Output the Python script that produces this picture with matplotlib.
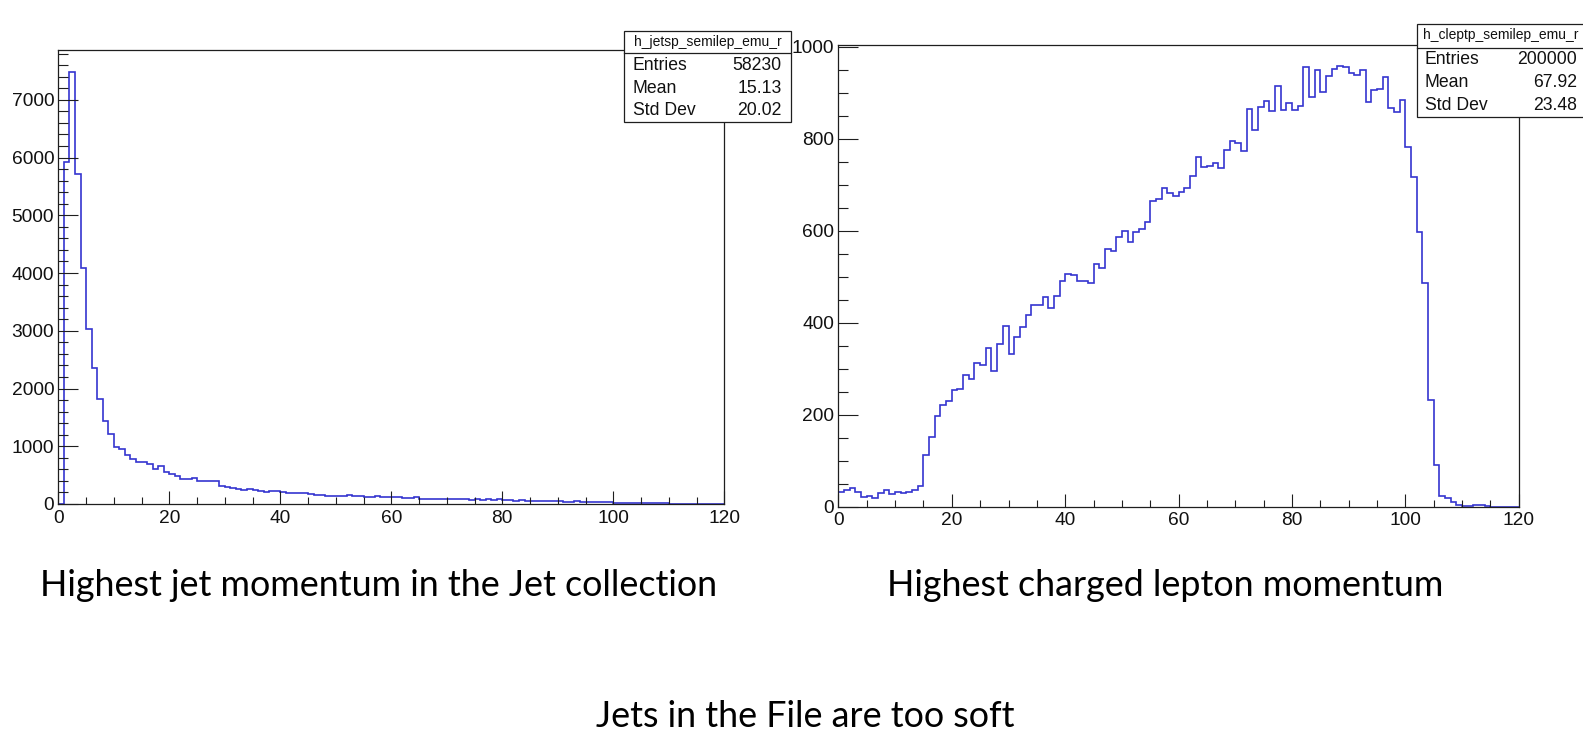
import numpy as np
import matplotlib
matplotlib.use("Agg")
import matplotlib.pyplot as plt
from matplotlib.patches import Rectangle
from matplotlib.lines import Line2D
from matplotlib.ticker import MultipleLocator

# ---------------- data ----------------
bin_edges = np.arange(0, 121, 1)

jet_counts = [
    0, 5925, 7488, 5712, 4080, 3035, 2360, 1810, 1440, 1220,
    990, 950, 840, 780, 720, 730, 690, 610, 650, 560,
    520, 490, 430, 425, 450, 395, 390, 390, 390, 320,
    300, 285, 265, 245, 255, 235, 225, 215, 225, 220,
    210, 185, 195, 185, 190, 165, 155, 150, 145, 135,
    140, 140, 150, 140, 135, 120, 125, 135, 125, 115,
    120, 115, 110, 112, 118, 95, 92, 90, 88, 95,
    82, 85, 78, 80, 75, 82, 70, 80, 72, 85,
    65, 68, 60, 62, 58, 55, 58, 52, 50, 55,
    45, 42, 40, 44, 38, 35, 40, 32, 36, 30,
    25, 22, 24, 20, 18, 22, 15, 14, 12, 10,
    8, 6, 2, 1, 0, 0, 0, 0, 0, 0,
]

lep_counts = [
    31, 36, 41, 31, 22, 24, 20, 30, 36, 28, 33, 29, 33, 36, 46,
    112, 151, 198, 222, 230, 253, 256, 286, 278, 312, 309, 344, 296, 353, 393,
    333, 370, 390, 416, 439, 438, 457, 433, 459, 490, 505, 504, 490, 490, 487,
    527, 520, 560, 557, 587, 599, 576, 597, 604, 618, 664, 668, 693, 682, 676,
    684, 692, 719, 761, 738, 741, 748, 737, 775, 796, 791, 774, 864, 819, 870,
    883, 861, 914, 862, 877, 862, 872, 957, 891, 949, 901, 937, 951, 958, 957,
    943, 938, 949, 879, 906, 909, 935, 868, 859, 884, 783, 716, 597, 486, 233,
    91, 24, 18, 11, 3, 1, 1, 3, 3, 1, 0, 0, 0, 0, 0,
]

x_ticks = [0, 20, 40, 60, 80, 100, 120]
jet_y_ticks = [0, 1000, 2000, 3000, 4000, 5000, 6000, 7000]
lep_y_ticks = [0, 200, 400, 600, 800, 1000]

stat_labels = ["Entries", "Mean", "Std Dev"]
jet_name = "h_jetsp_semilep_emu_r"
jet_stat_values = ["58230", "15.13", "20.02"]
lep_name = "h_cleptp_semilep_emu_r"
lep_stat_values = ["200000", "67.92", "23.48"]

caption_left = "Highest jet momentum in the Jet collection"
caption_right = "Highest charged lepton momentum"
caption_bottom = "Jets in the File are too soft"

# ---------------- style ----------------
W, H = 1583, 753
DPI = 100
BLUE = "#3535d0"
FRAME = "#1e1e1e"
TICKFONT = "Liberation Sans"
CAPFONT = "Lato"
CAPSIZE = 25.8

plt.rcParams["font.family"] = [TICKFONT, "DejaVu Sans"]

fig = plt.figure(figsize=(W / DPI, H / DPI), dpi=DPI)
fig.patch.set_facecolor("white")


def fx(x):
    return x / W


def fy(y):
    return 1 - y / H


def make_axes(x0, x1, ytop, ybot, ymax, yticks, yminor, counts):
    ax = fig.add_axes([fx(x0), fy(ybot), (x1 - x0) / W, (ybot - ytop) / H])
    ax.stairs(counts, bin_edges, color=BLUE, lw=1.2, baseline=0)
    ax.set_xlim(0, 120)
    ax.set_ylim(0, ymax)
    ax.set_xticks(x_ticks)
    ax.set_yticks(yticks)
    ax.xaxis.set_minor_locator(MultipleLocator(5))
    ax.yaxis.set_minor_locator(MultipleLocator(yminor))
    ax.tick_params(axis="both", which="both", direction="in", top=False,
                   right=False, color=FRAME, width=0.8, labelsize=13.8,
                   labelcolor="#111111")
    ax.tick_params(axis="y", which="major", length=14.4, pad=3)
    ax.tick_params(axis="y", which="minor", length=7.2)
    ax.tick_params(axis="x", which="major", length=9.4, pad=4)
    ax.tick_params(axis="x", which="minor", length=5)
    for s in ax.spines.values():
        s.set_color(FRAME)
        s.set_linewidth(0.9)
    return ax


ax1 = make_axes(58.3, 724.3, 50, 504, 7862, jet_y_ticks, 200, jet_counts)
ax2 = make_axes(838.4, 1518.8, 44.5, 506.7, 1005, lep_y_ticks, 50, lep_counts)


def stat_box(x0, x1, y0, y1, yh, name, values, hdr_y, row_ys, lab_x, val_x):
    rect = Rectangle((fx(x0), fy(y1)), (x1 - x0) / W, (y1 - y0) / H,
                     transform=fig.transFigure, facecolor="white",
                     edgecolor=FRAME, lw=0.9, zorder=10)
    fig.add_artist(rect)
    fig.add_artist(Line2D([fx(x0), fx(x1)], [fy(yh), fy(yh)],
                          transform=fig.transFigure, color=FRAME, lw=0.9,
                          zorder=11))
    fig.text(fx((x0 + x1) / 2), fy(hdr_y), name, ha="center", va="center",
             fontsize=10, color="#111111", zorder=12)
    for lab, val, ry in zip(stat_labels, values, row_ys):
        fig.text(fx(lab_x), fy(ry), lab, ha="left", va="center",
                 fontsize=12.7, color="#111111", zorder=12)
        fig.text(fx(val_x), fy(ry), val, ha="right", va="center",
                 fontsize=12.7, color="#111111", zorder=12)


stat_box(624.3, 791, 30.7, 121.7, 52.7, jet_name, jet_stat_values,
         41.7, [65, 88.3, 110.7], 632.7, 781.7)
stat_box(1416.7, 1585, 24, 116.7, 48.3, lep_name, lep_stat_values,
         35, [59.3, 82.7, 106], 1425, 1577.3)

fig.text(fx(378.6), fy(595.6), caption_left, ha="center", va="baseline",
         fontsize=CAPSIZE, family=[CAPFONT, "DejaVu Sans"], color="black")
fig.text(fx(1165), fy(595.6), caption_right, ha="center", va="baseline",
         fontsize=CAPSIZE, family=[CAPFONT, "DejaVu Sans"], color="black")
fig.text(fx(805), fy(727), caption_bottom, ha="center", va="baseline",
         fontsize=CAPSIZE, family=[CAPFONT, "DejaVu Sans"], color="black")

fig.savefig("out.png", dpi=DPI, facecolor="white")
